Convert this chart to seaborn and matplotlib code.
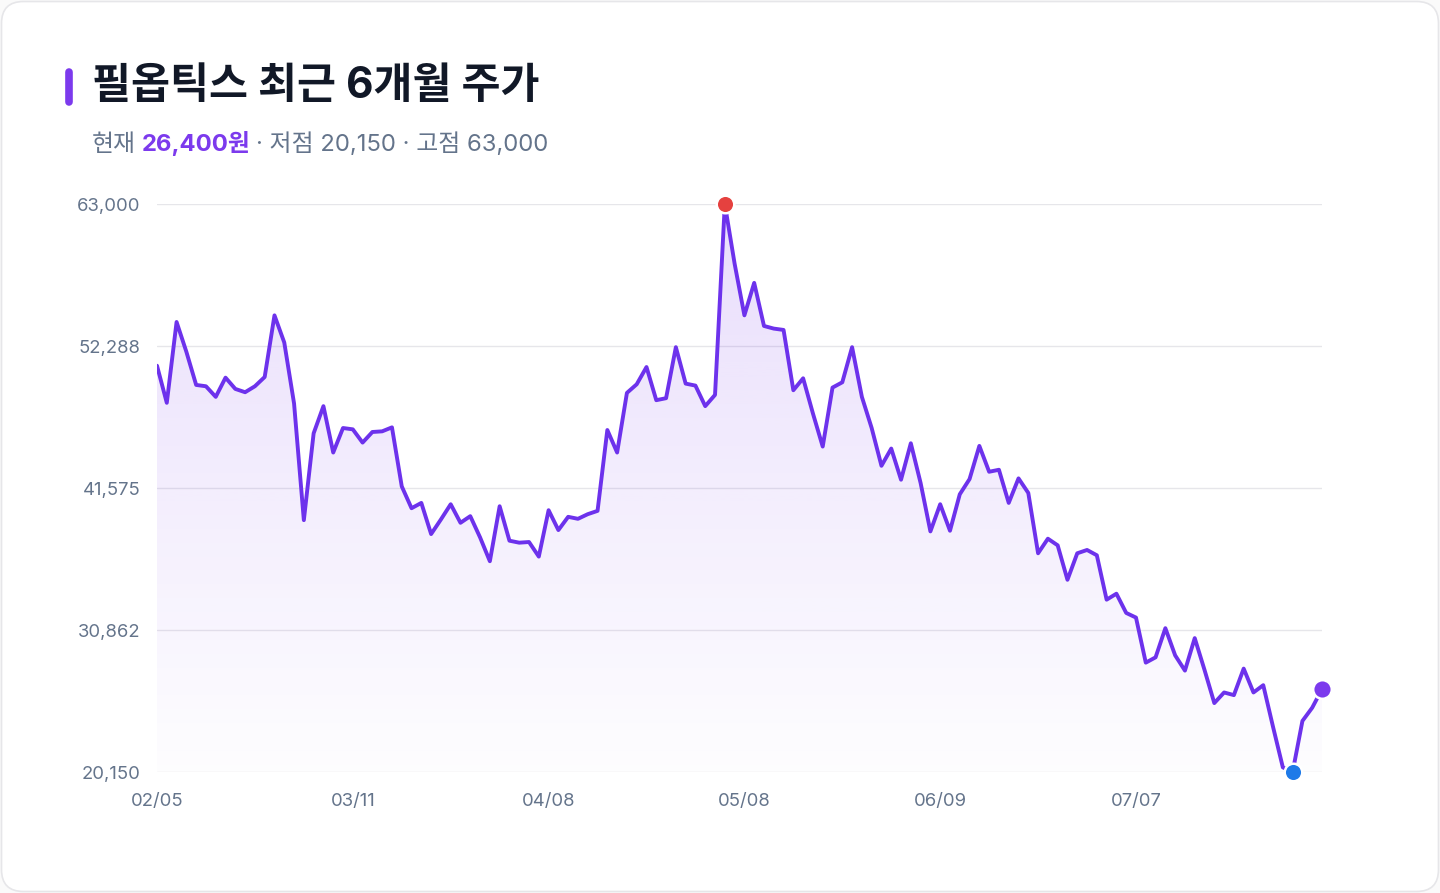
import numpy as np
import pandas as pd
import matplotlib.pyplot as plt
import seaborn as sns
from matplotlib.patches import FancyBboxPatch
from matplotlib.lines import Line2D
from matplotlib.transforms import IdentityTransform
from matplotlib.colors import to_rgb

# daily closing prices (KRW)
prices = [
    50800, 48000, 54100, 51850, 49350, 49250, 48450, 49900, 49050, 48800,
    49250, 49950, 54600, 52550, 47950, 39150, 45700, 47750, 44250, 46100,
    46000, 45000, 45800, 45850, 46150, 41700, 40050, 40450, 38100, 39200,
    40350, 38950, 39450, 37850, 36050, 40200, 37600, 37450, 37500, 36400,
    39900, 38400, 39400, 39250, 39600, 39850, 45950, 44250, 48750, 49400,
    50700, 48200, 48350, 52200, 49450, 49300, 47750, 48600, 63000, 58500,
    54600, 57050, 53800, 53600, 53500, 48950, 49850, 47200, 44700, 49150,
    49550, 52200, 48450, 46100, 43250, 44550, 42200, 44950, 41950, 38300,
    40350, 38350, 41100, 42250, 44750, 42800, 42950, 40450, 42300, 41200,
    36650, 37750, 37250, 34650, 36650, 36900, 36500, 33150, 33600, 32150,
    31800, 28400, 28800, 31000, 28950, 27800, 30250, 27850, 25350, 26150,
    25950, 27950, 26150, 26700, 23550, 20500, 20150, 24000, 25000, 26400,
]
tick_labels = ["02/05", "03/11", "04/08", "05/08", "06/09", "07/07"]
tick_step = 20
y_labels = ["20,150", "30,862", "41,575", "52,288", "63,000"]
title = "필옵틱스 최근 6개월 주가"

df = pd.DataFrame({"day": np.arange(len(prices)), "price": prices})
low, high, last = df.price.min(), df.price.max(), df.price.iloc[-1]
y_ticks = np.linspace(low, high, len(y_labels))

purple = "#6d32ec"
accent = "#7c3aed"
gray = "#64748b"

sns.set_style("white")
plt.rcParams["font.family"] = ["Inter", "Noto Sans CJK KR"]

W, H = 1440, 893
fig = plt.figure(figsize=(W / 100, H / 100), dpi=100)
fig.patch.set_facecolor("#fafafa")

# card background
card = FancyBboxPatch((1.5, 1.5), W - 3, H - 3, boxstyle="round,pad=0,rounding_size=22",
                      transform=IdentityTransform(), facecolor="white",
                      edgecolor="#e6e6e9", linewidth=1.2, zorder=0)
fig.add_artist(card)

ax = fig.add_axes([157 / W, (H - 772) / H, 1165 / W, 568 / H])
ax.set_facecolor("none")

# gradient area under the line
fill = ax.fill_between(df.day, df.price, low, facecolor="none", edgecolor="none")
r, g, b = to_rgb(accent)
grad = np.zeros((256, 1, 4))
grad[:, 0, 0], grad[:, 0, 1], grad[:, 0, 2] = r, g, b
grad[:, 0, 3] = np.linspace(0.17, 0.01, 256)
im = ax.imshow(grad, extent=[0, len(prices) - 1, low, high], origin="upper",
               aspect="auto", zorder=1)
im.set_clip_path(fill.get_paths()[0], transform=ax.transData)

sns.lineplot(data=df, x="day", y="price", ax=ax, color=purple, linewidth=2.8, zorder=3)

# markers for high, low, current
i_hi, i_lo = df.price.idxmax(), df.price.idxmin()
ax.scatter([i_hi], [high], s=160, color="#e5413f", edgecolor="white", linewidth=1.8, zorder=5, clip_on=False)
ax.scatter([i_lo], [low], s=160, color="#1f7ae8", edgecolor="white", linewidth=1.8, zorder=5, clip_on=False)
ax.scatter([df.day.iloc[-1]], [last], s=180, color=accent, edgecolor="white", linewidth=1.8, zorder=5, clip_on=False)

ax.set_xlim(0, len(prices) - 1)
ax.set_ylim(low, high)
ax.set_yticks(y_ticks)
ax.set_yticklabels(y_labels)
ax.set_xticks(np.arange(len(tick_labels)) * tick_step)
ax.set_xticklabels(tick_labels)
ax.yaxis.grid(True, color="#e6e6ea", linewidth=1)
ax.xaxis.grid(False)
ax.set_axisbelow(True)
ax.tick_params(axis="y", length=0, pad=12, labelsize=13.3, labelcolor=gray)
ax.tick_params(axis="x", length=0, pad=15, labelsize=13.3, labelcolor=gray)
ax.set_xlabel("")
ax.set_ylabel("")
sns.despine(ax=ax, left=True, bottom=True)

# title with accent bar
fig.add_artist(Line2D([69 / W, 69 / W], [1 - 72 / H, 1 - 102 / H], lw=5.5,
                      color=accent, solid_capstyle="round"))
fig.text(92 / W, 1 - 87 / H, title, fontsize=30.5, fontweight="bold",
         color="#111827", va="center")

# subtitle: current / low / high
t1 = fig.text(92 / W, 1 - 151 / H, "현재", fontsize=17.2, color=gray, va="baseline")
t2 = ax.annotate(f"{last:,}원", xy=(1, 0), xycoords=t1, xytext=(6, 0),
                 textcoords="offset pixels", fontsize=17.2, fontweight="bold",
                 color=accent, va="bottom")
ax.annotate(f"· 저점 {low:,} · 고점 {high:,}", xy=(1, 0), xycoords=t2, xytext=(5, 0),
            textcoords="offset pixels", fontsize=17.2, color=gray, va="bottom")

fig.savefig("out.png", dpi=100, facecolor=fig.get_facecolor())
